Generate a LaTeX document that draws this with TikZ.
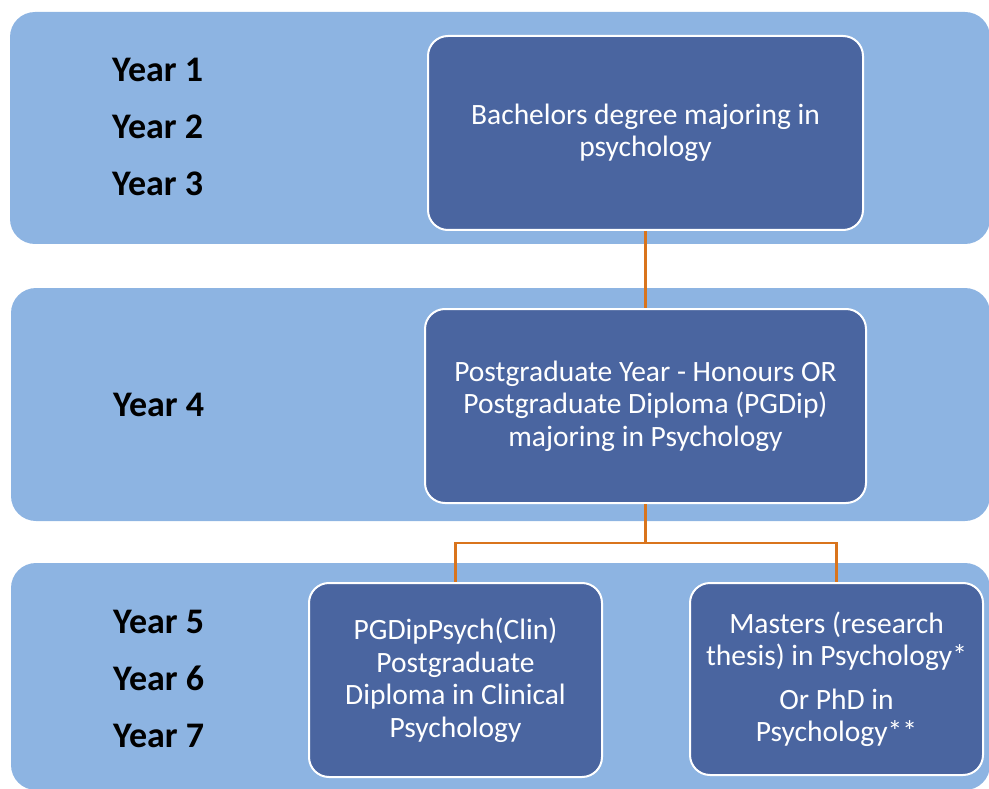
\documentclass[tikz,border=0pt]{standalone}
\usepackage{fontspec}
\setmainfont{Carlito}
\definecolor{bandblue}{HTML}{8DB4E2}
\definecolor{boxblue}{HTML}{4A65A0}
\definecolor{linkorange}{HTML}{D9741C}
\begin{document}
\begin{tikzpicture}[x=1pt,y=-1pt,
  band/.style={fill=bandblue,draw=none,rounded corners=25pt,inner sep=0pt},
  stagebox/.style={fill=boxblue,draw=white,line width=2pt,rounded corners=20pt,inner sep=0pt,
    text=white,align=center,font=\fontsize{29.5}{32.5}\selectfont},
  yearlbl/.style={anchor=base west,inner sep=0pt,font=\fontsize{36}{42}\selectfont\bfseries},
  link/.style={draw=linkorange,line width=2.5pt}]
\useasboundingbox (0,0) rectangle (989,789);
% bands
\node[band,minimum width=980pt,minimum height=232pt] (band1) at (500,128) {};
\node[band,minimum width=979pt,minimum height=233pt] (band2) at (500.5,404.5) {};
\node[band,minimum width=979pt,minimum height=227pt] (band3) at (500.5,676.5) {};
% year labels
\node[yearlbl] (y1) at (112,82) {Year 1};
\node[yearlbl] (y2) at (112,139) {Year 2};
\node[yearlbl] (y3) at (112,196) {Year 3};
\node[yearlbl] (y4) at (113,416) {Year 4};
\node[yearlbl] (y5) at (113,633) {Year 5};
\node[yearlbl] (y6) at (113,690) {Year 6};
\node[yearlbl] (y7) at (113,747) {Year 7};
% stage boxes
\node[stagebox,minimum width=435pt,minimum height=194pt] (b1) at (645.5,133)
  {Bachelors degree majoring in\\psychology};
\node[stagebox,minimum width=441pt,minimum height=194pt] (b2) at (645.5,406)
  {Postgraduate Year - Honours OR\\Postgraduate Diploma (PGDip)\\majoring in Psychology};
\node[stagebox,minimum width=293pt,minimum height=194pt] (b3) at (455.5,680)
  {PGDipPsych(Clin)\\Postgraduate\\Diploma in Clinical\\Psychology};
\node[stagebox,minimum width=293pt,minimum height=192pt] (b4) at (836.5,679)
  {Masters (research\\thesis) in Psychology*\\[11pt]Or PhD in\\Psychology**};
% connectors
\coordinate (j) at (645.5,543);
\draw[link] (b1.south) -- (b2.north);
\draw[link] (b2.south) -- (j);
\draw[link] (j) -| (b3.north);
\draw[link] (j) -| (b4.north);
\end{tikzpicture}
\end{document}
